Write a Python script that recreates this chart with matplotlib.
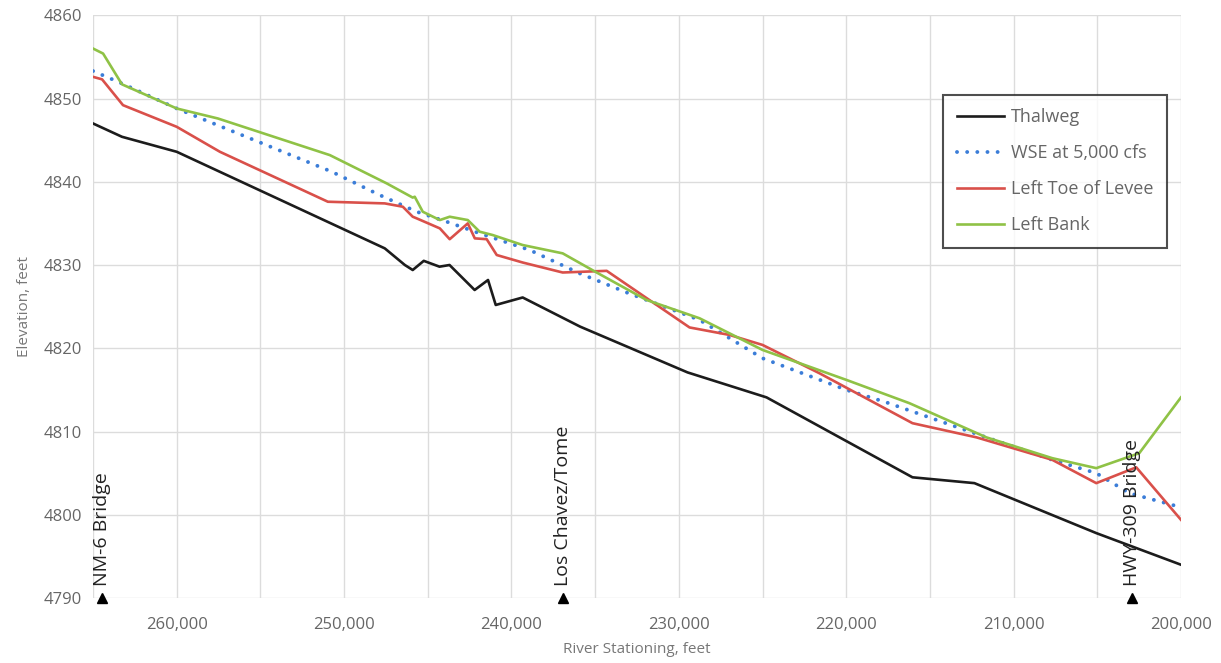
import numpy as np
import matplotlib.pyplot as plt
from matplotlib.ticker import MultipleLocator, FuncFormatter

plt.rcParams['font.family'] = ['Open Sans', 'DejaVu Sans']

# ---- data (station in ft, elevation in ft) ----
thal_x = [265000, 263270, 260000, 247570, 246370, 245900, 245240, 244300, 243700,
          242200, 241400, 240940, 239330, 235900, 229480, 224760, 216040, 212340,
          205060, 200000]
thal_y = [4847.0, 4845.4, 4843.6, 4832.0, 4830.0, 4829.4, 4830.5, 4829.8, 4830.0,
          4827.0, 4828.2, 4825.2, 4826.1, 4822.6, 4817.1, 4814.1, 4804.5, 4803.8,
          4797.8, 4794.0]

wse_x = [265000, 263270, 260000, 250730, 247870, 245660, 243870, 241900, 238910,
         235930, 233120, 228760, 225000, 219990, 217600, 211630, 207690, 205060,
         203090, 200000]
wse_y = [4853.3, 4851.8, 4848.8, 4841.2, 4838.4, 4836.4, 4835.2, 4833.8, 4831.8,
         4829.0, 4826.7, 4823.4, 4818.8, 4815.0, 4813.5, 4809.3, 4806.6, 4805.0,
         4802.6, 4800.9]

toe_x = [265000, 264460, 263210, 260000, 257420, 250970, 247570, 246490, 245900,
         245660, 244280, 243690, 242610, 242190, 241480, 240880, 239330, 236940,
         234310, 229360, 226970, 225000, 221600, 216040, 212220, 207690, 205060,
         202670, 200000]
toe_y = [4852.6, 4852.3, 4849.2, 4846.6, 4843.6, 4837.6, 4837.4, 4837.0, 4835.8,
         4835.6, 4834.4, 4833.1, 4835.0, 4833.2, 4833.1, 4831.2, 4830.3, 4829.1,
         4829.3, 4822.5, 4821.6, 4820.4, 4817.0, 4811.0, 4809.3, 4806.6, 4803.8,
         4805.7, 4799.4]

bank_x = [265000, 264400, 263270, 260000, 257540, 250850, 247450, 245900, 245780,
          245300, 244280, 243690, 242610, 241900, 241120, 239330, 236940, 234910,
          231930, 228760, 225000, 219990, 216220, 211630, 207690, 205060, 202490,
          200000]
bank_y = [4856.0, 4855.4, 4851.7, 4848.8, 4847.6, 4843.2, 4839.8, 4838.1, 4838.2,
          4836.4, 4835.4, 4835.8, 4835.4, 4834.0, 4833.6, 4832.4, 4831.4, 4829.1,
          4825.8, 4823.6, 4819.8, 4816.2, 4813.4, 4809.3, 4806.8, 4805.6, 4807.4,
          4814.1]

sites = ['NM-6 Bridge', 'Los Chavez/Tome', 'HWY-309 Bridge']
site_x = [264450, 236950, 202950]

fig = plt.figure(figsize=(12.21, 6.63), dpi=100)
ax = fig.add_axes([0.0762, 0.098, 0.891, 0.879])

ax.plot(thal_x, thal_y, color='#1c1c1c', lw=1.9, label='Thalweg')
ax.plot(wse_x, wse_y, color='#3b7dd8', lw=2.8, linestyle=(0, (0.01, 2.6)),
        dash_capstyle='round', label='WSE at 5,000 cfs')
ax.plot(toe_x, toe_y, color='#d9504a', lw=1.9, label='Left Toe of Levee')
ax.plot(bank_x, bank_y, color='#8fc246', lw=1.9, label='Left Bank')

# site markers along the bottom
for name, sx in zip(sites, site_x):
    ax.plot(sx, 4790, marker='^', color='black', ms=7, clip_on=False, zorder=5)
    ax.text(sx, 4791.5, name, rotation=90, ha='center', va='bottom',
            fontsize=14, color='#222222')

ax.set_xlim(265000, 200000)
ax.set_ylim(4790, 4860)
ax.xaxis.set_major_locator(MultipleLocator(10000))
ax.xaxis.set_minor_locator(MultipleLocator(5000))
ax.yaxis.set_major_locator(MultipleLocator(10))
ax.xaxis.set_major_formatter(FuncFormatter(lambda v, p: f'{int(v):,}'))
ax.grid(True, which='both', color='#dcdcdc', lw=1)
ax.set_axisbelow(True)
for s in ax.spines.values():
    s.set_visible(False)
ax.tick_params(which='both', length=0, labelsize=12, labelcolor='#666666')
ax.tick_params(axis='x', pad=14)
ax.tick_params(axis='y', pad=8)

ax.set_xlabel('River Stationing, feet', fontsize=11, color='#777777', labelpad=6)
ax.set_ylabel('Elevation, feet', fontsize=11, color='#777777', labelpad=8)

leg = ax.legend(loc='upper right', bbox_to_anchor=(0.987, 0.864), fontsize=13,
                frameon=True, fancybox=False, handlelength=2.6, labelspacing=1.0,
                borderpad=0.75, handletextpad=0.4, borderaxespad=0)
leg.get_frame().set_edgecolor('#222222')
leg.get_frame().set_linewidth(1.5)
for t in leg.get_texts():
    t.set_color('#666666')

fig.savefig('out.png', dpi=100)
